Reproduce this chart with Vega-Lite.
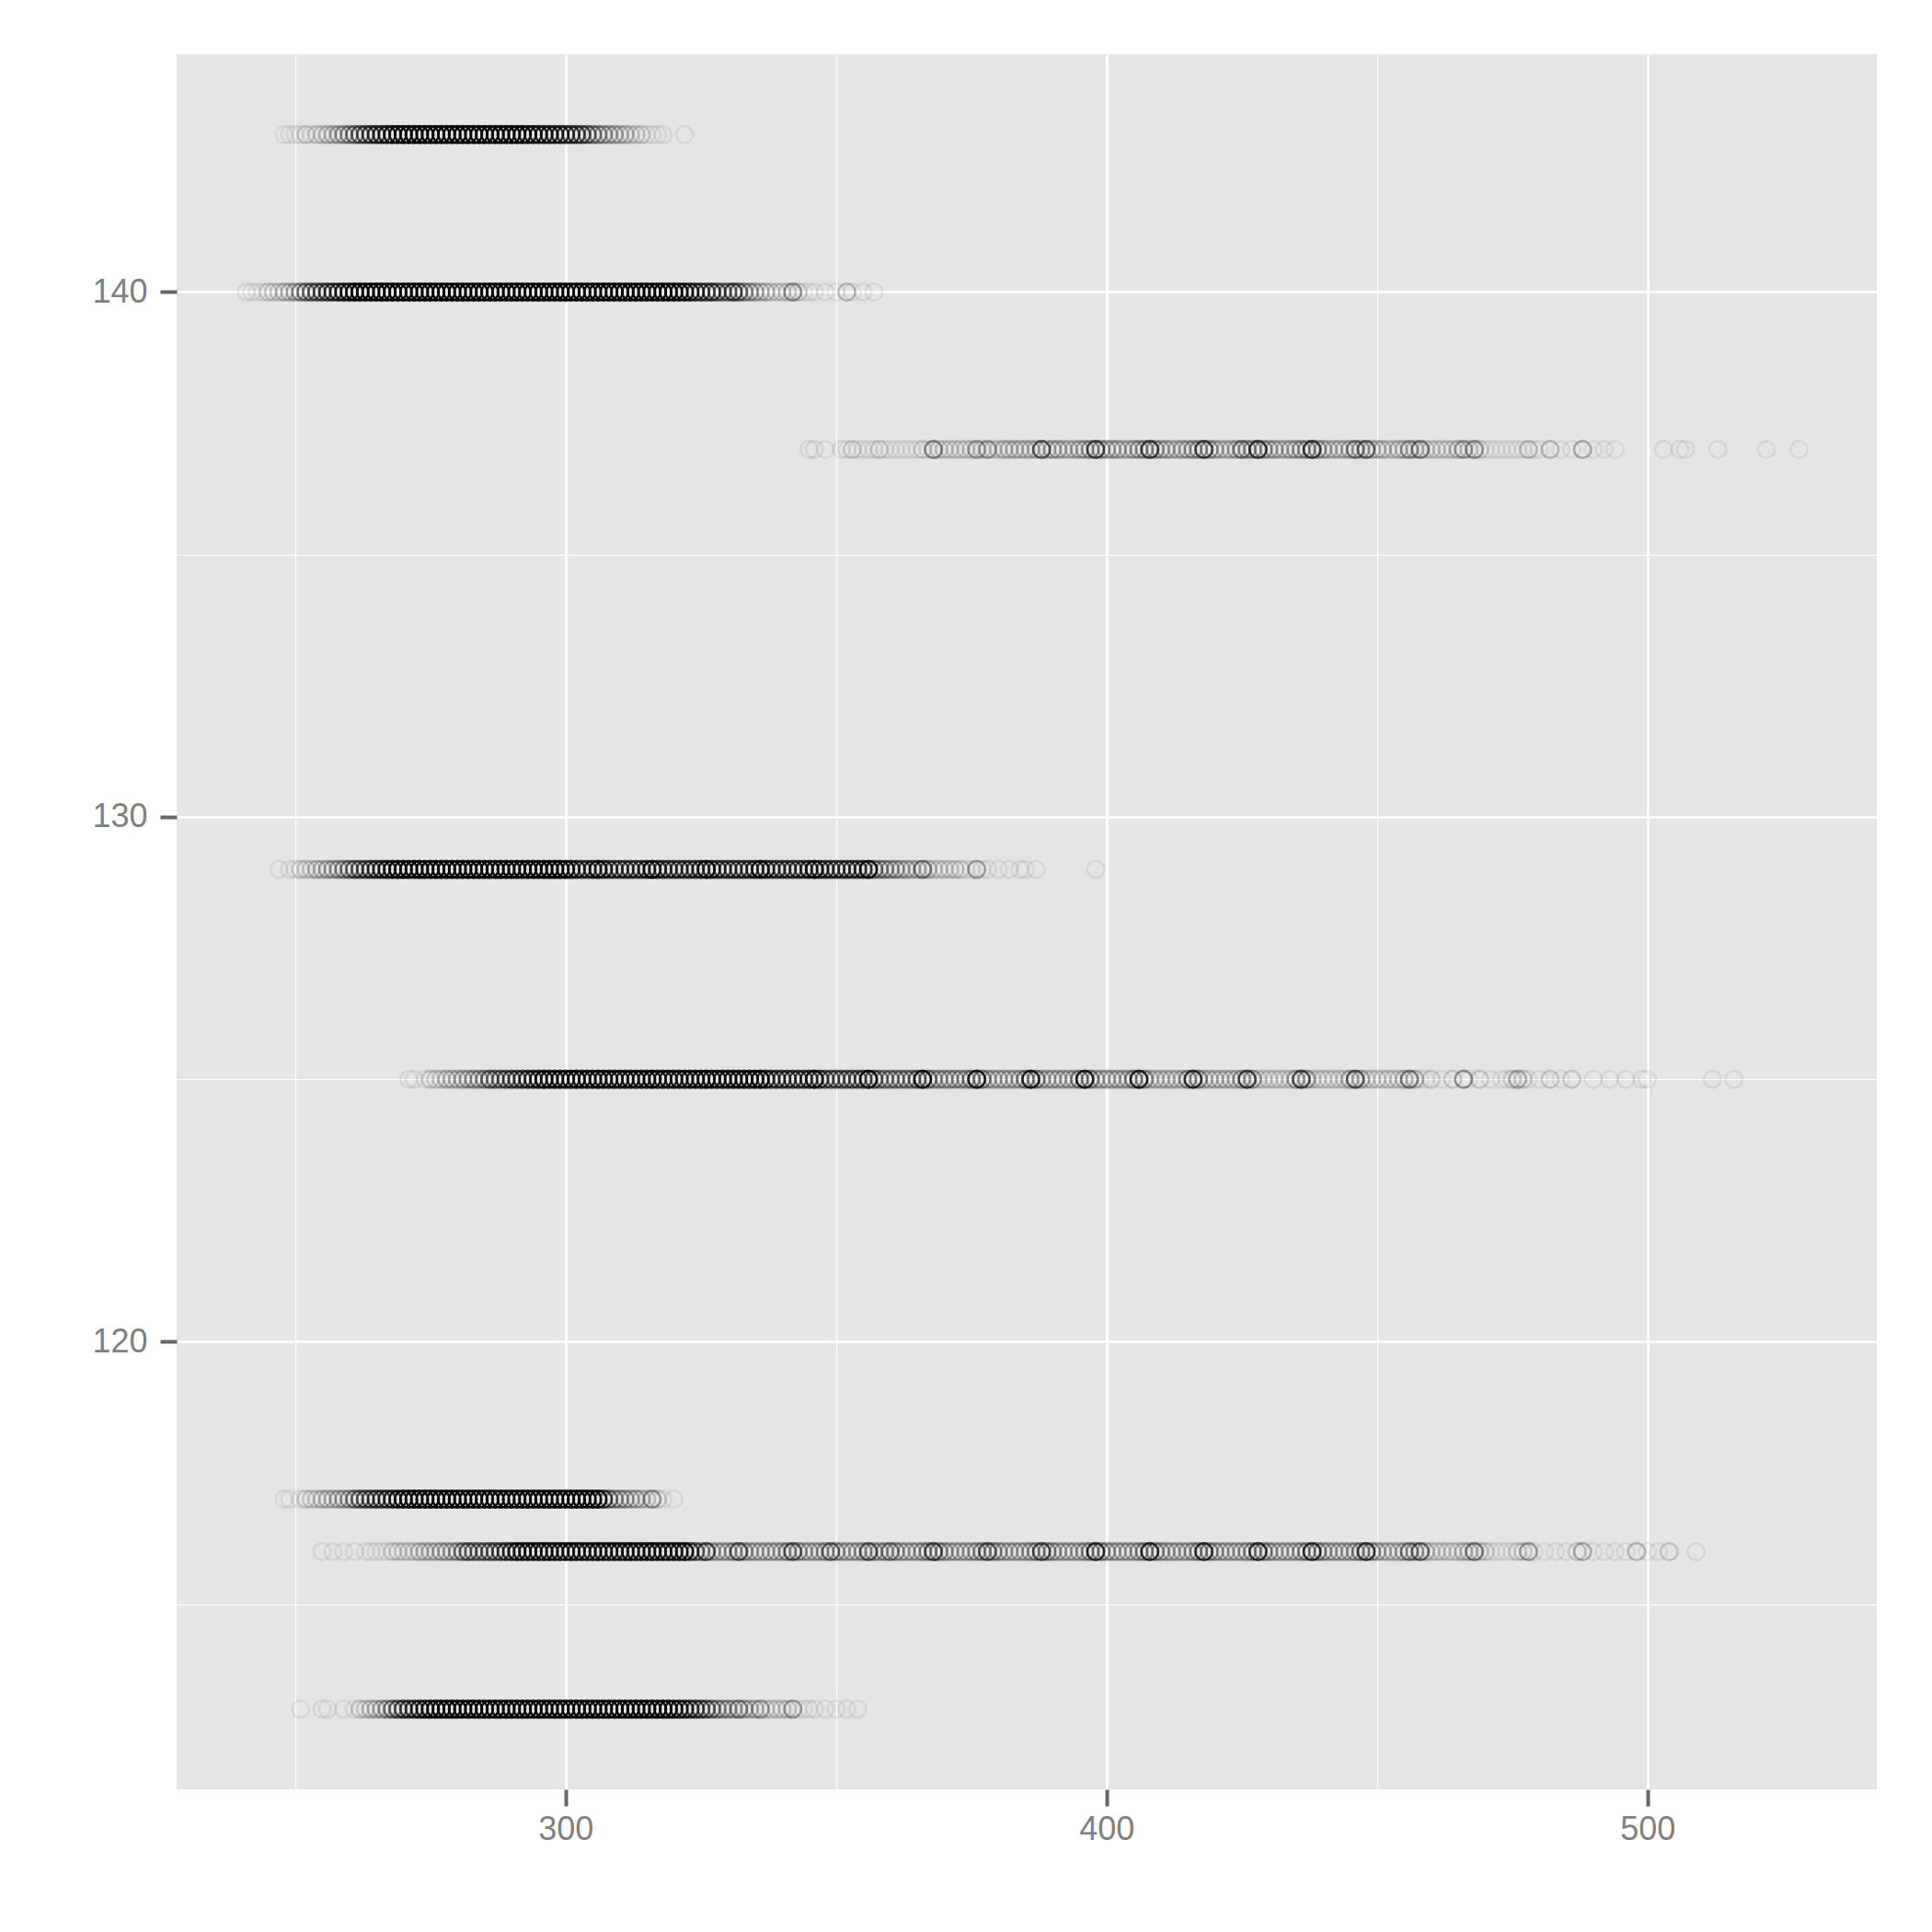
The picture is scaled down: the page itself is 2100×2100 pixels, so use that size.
{"$schema":"https://vega.github.io/schema/vega-lite/v6.json","width":1848,"height":1886,"autosize":"none","padding":{"left":192,"top":59,"right":60,"bottom":155},"background":"white","config":{"view":{"fill":"#E5E5E5","stroke":null},"axis":{"labelFont":"Liberation Sans","labelFontSize":36,"labelColor":"#7F7F7F","tickColor":"#666666","tickSize":18,"tickWidth":4,"domain":false,"title":null,"gridColor":"#FFFFFF"}},
"data":{"values":[
{"x":248,"y":143,"n":1},{"x":249,"y":143,"n":1},{"x":250,"y":143,"n":1},{"x":251,"y":143,"n":1},{"x":252,"y":143,"n":2},{"x":253,"y":143,"n":1},{"x":254,"y":143,"n":2},{"x":255,"y":143,"n":2},{"x":256,"y":143,"n":3},{"x":257,"y":143,"n":3},{"x":258,"y":143,"n":4},{"x":259,"y":143,"n":5},{"x":260,"y":143,"n":6},{"x":261,"y":143,"n":8},{"x":262,"y":143,"n":10},{"x":263,"y":143,"n":12},{"x":264,"y":143,"n":14},{"x":265,"y":143,"n":16},{"x":266,"y":143,"n":18},{"x":267,"y":143,"n":20},{"x":268,"y":143,"n":24},{"x":269,"y":143,"n":26},{"x":270,"y":143,"n":28},
{"x":271,"y":143,"n":32},{"x":272,"y":143,"n":32},{"x":273,"y":143,"n":32},{"x":274,"y":143,"n":32},{"x":275,"y":143,"n":32},{"x":276,"y":143,"n":32},{"x":277,"y":143,"n":32},{"x":278,"y":143,"n":32},{"x":279,"y":143,"n":32},{"x":280,"y":143,"n":32},{"x":281,"y":143,"n":32},{"x":282,"y":143,"n":32},{"x":283,"y":143,"n":32},{"x":284,"y":143,"n":32},{"x":285,"y":143,"n":32},{"x":286,"y":143,"n":32},{"x":287,"y":143,"n":32},{"x":288,"y":143,"n":32},{"x":289,"y":143,"n":32},{"x":290,"y":143,"n":32},{"x":291,"y":143,"n":32},{"x":292,"y":143,"n":32},
{"x":293,"y":143,"n":24},{"x":294,"y":143,"n":22},{"x":295,"y":143,"n":22},{"x":296,"y":143,"n":20},{"x":297,"y":143,"n":20},{"x":298,"y":143,"n":18},{"x":299,"y":143,"n":18},{"x":300,"y":143,"n":16},{"x":301,"y":143,"n":15},{"x":302,"y":143,"n":14},{"x":303,"y":143,"n":12},{"x":304,"y":143,"n":9},{"x":305,"y":143,"n":7},{"x":306,"y":143,"n":6},{"x":307,"y":143,"n":5},{"x":308,"y":143,"n":4},{"x":309,"y":143,"n":4},{"x":310,"y":143,"n":3},{"x":311,"y":143,"n":3},{"x":312,"y":143,"n":2},{"x":313,"y":143,"n":2},{"x":314,"y":143,"n":2},{"x":315,"y":143,"n":1},{"x":316,"y":143,"n":1},{"x":317,"y":143,"n":1},{"x":318,"y":143,"n":1},{"x":322,"y":143,"n":1},
{"x":241,"y":140,"n":1},{"x":242,"y":140,"n":1},{"x":243,"y":140,"n":1},{"x":244,"y":140,"n":1},{"x":245,"y":140,"n":2},{"x":246,"y":140,"n":2},{"x":247,"y":140,"n":2},{"x":248,"y":140,"n":3},{"x":249,"y":140,"n":3},{"x":250,"y":140,"n":4},{"x":251,"y":140,"n":6},{"x":252,"y":140,"n":8},{"x":253,"y":140,"n":9},{"x":254,"y":140,"n":10},{"x":255,"y":140,"n":12},{"x":256,"y":140,"n":14},{"x":257,"y":140,"n":15},{"x":258,"y":140,"n":17},{"x":259,"y":140,"n":20},{"x":260,"y":140,"n":24},
{"x":261,"y":140,"n":34},{"x":262,"y":140,"n":34},{"x":263,"y":140,"n":34},{"x":264,"y":140,"n":34},{"x":265,"y":140,"n":34},{"x":266,"y":140,"n":34},{"x":267,"y":140,"n":34},{"x":268,"y":140,"n":34},{"x":269,"y":140,"n":34},{"x":270,"y":140,"n":34},{"x":271,"y":140,"n":34},{"x":272,"y":140,"n":34},{"x":273,"y":140,"n":34},{"x":274,"y":140,"n":34},{"x":275,"y":140,"n":34},{"x":276,"y":140,"n":34},{"x":277,"y":140,"n":34},{"x":278,"y":140,"n":34},{"x":279,"y":140,"n":34},{"x":280,"y":140,"n":34},{"x":281,"y":140,"n":34},{"x":282,"y":140,"n":34},{"x":283,"y":140,"n":34},{"x":284,"y":140,"n":34},{"x":285,"y":140,"n":34},{"x":286,"y":140,"n":34},{"x":287,"y":140,"n":34},{"x":288,"y":140,"n":34},{"x":289,"y":140,"n":34},{"x":290,"y":140,"n":34},{"x":291,"y":140,"n":34},{"x":292,"y":140,"n":34},{"x":293,"y":140,"n":34},{"x":294,"y":140,"n":34},{"x":295,"y":140,"n":34},{"x":296,"y":140,"n":34},{"x":297,"y":140,"n":34},{"x":298,"y":140,"n":34},{"x":299,"y":140,"n":34},{"x":300,"y":140,"n":34},{"x":301,"y":140,"n":34},{"x":302,"y":140,"n":34},{"x":303,"y":140,"n":34},{"x":304,"y":140,"n":34},{"x":305,"y":140,"n":34},{"x":306,"y":140,"n":34},{"x":307,"y":140,"n":34},{"x":308,"y":140,"n":34},{"x":309,"y":140,"n":34},{"x":310,"y":140,"n":34},{"x":311,"y":140,"n":34},{"x":312,"y":140,"n":34},{"x":313,"y":140,"n":34},{"x":314,"y":140,"n":34},{"x":315,"y":140,"n":34},{"x":316,"y":140,"n":34},{"x":317,"y":140,"n":34},{"x":318,"y":140,"n":34},{"x":319,"y":140,"n":34},
{"x":320,"y":140,"n":28},{"x":321,"y":140,"n":25},{"x":322,"y":140,"n":22},{"x":323,"y":140,"n":20},{"x":324,"y":140,"n":16},{"x":325,"y":140,"n":14},{"x":326,"y":140,"n":12},{"x":327,"y":140,"n":16},{"x":328,"y":140,"n":10},{"x":329,"y":140,"n":8},{"x":330,"y":140,"n":8},{"x":331,"y":140,"n":14},{"x":332,"y":140,"n":9},{"x":333,"y":140,"n":6},{"x":334,"y":140,"n":5},{"x":335,"y":140,"n":4},{"x":336,"y":140,"n":3},{"x":337,"y":140,"n":3},{"x":338,"y":140,"n":2},{"x":339,"y":140,"n":2},{"x":340,"y":140,"n":2},{"x":341,"y":140,"n":2},{"x":342,"y":140,"n":6},{"x":343,"y":140,"n":2},{"x":344,"y":140,"n":1},{"x":345,"y":140,"n":1},{"x":346,"y":140,"n":1},{"x":348,"y":140,"n":1},{"x":350,"y":140,"n":1},{"x":352,"y":140,"n":3},{"x":353,"y":140,"n":1},{"x":355,"y":140,"n":1},{"x":357,"y":140,"n":1},
{"x":345,"y":137,"n":1},{"x":346,"y":137,"n":1},{"x":348,"y":137,"n":1},{"x":351,"y":137,"n":1},{"x":352,"y":137,"n":1},{"x":353,"y":137,"n":2},{"x":354,"y":137,"n":1},{"x":355,"y":137,"n":1},{"x":356,"y":137,"n":1},{"x":357,"y":137,"n":1},{"x":358,"y":137,"n":2},{"x":359,"y":137,"n":1},{"x":360,"y":137,"n":1},{"x":361,"y":137,"n":1},{"x":362,"y":137,"n":1},{"x":363,"y":137,"n":1},{"x":364,"y":137,"n":1},{"x":365,"y":137,"n":1},{"x":366,"y":137,"n":2},{"x":367,"y":137,"n":1},{"x":368,"y":137,"n":7},{"x":369,"y":137,"n":2},{"x":370,"y":137,"n":2},{"x":371,"y":137,"n":2},{"x":372,"y":137,"n":2},{"x":373,"y":137,"n":2},{"x":374,"y":137,"n":2},{"x":375,"y":137,"n":2},{"x":376,"y":137,"n":5},{"x":377,"y":137,"n":2},{"x":378,"y":137,"n":5},{"x":379,"y":137,"n":2},{"x":380,"y":137,"n":2},{"x":381,"y":137,"n":3},{"x":382,"y":137,"n":3},{"x":383,"y":137,"n":3},{"x":384,"y":137,"n":3},{"x":385,"y":137,"n":3},{"x":386,"y":137,"n":3},{"x":387,"y":137,"n":3},{"x":388,"y":137,"n":12},{"x":389,"y":137,"n":3},{"x":390,"y":137,"n":4},{"x":391,"y":137,"n":4},{"x":392,"y":137,"n":3},{"x":393,"y":137,"n":3},{"x":394,"y":137,"n":3},{"x":395,"y":137,"n":4},{"x":396,"y":137,"n":4},{"x":397,"y":137,"n":5},{"x":398,"y":137,"n":15},{"x":399,"y":137,"n":5},{"x":400,"y":137,"n":4},{"x":401,"y":137,"n":4},{"x":402,"y":137,"n":4},{"x":403,"y":137,"n":3},{"x":404,"y":137,"n":3},{"x":405,"y":137,"n":4},{"x":406,"y":137,"n":5},{"x":407,"y":137,"n":5},{"x":408,"y":137,"n":16},{"x":409,"y":137,"n":5},{"x":410,"y":137,"n":4},{"x":411,"y":137,"n":4},{"x":412,"y":137,"n":3},{"x":413,"y":137,"n":3},{"x":414,"y":137,"n":4},{"x":415,"y":137,"n":4},{"x":416,"y":137,"n":5},{"x":417,"y":137,"n":5},{"x":418,"y":137,"n":16},{"x":419,"y":137,"n":5},{"x":420,"y":137,"n":4},{"x":421,"y":137,"n":3},{"x":422,"y":137,"n":3},{"x":423,"y":137,"n":3},{"x":424,"y":137,"n":4},{"x":425,"y":137,"n":8},{"x":426,"y":137,"n":5},{"x":427,"y":137,"n":5},{"x":428,"y":137,"n":18},{"x":429,"y":137,"n":5},{"x":430,"y":137,"n":4},{"x":431,"y":137,"n":4},{"x":432,"y":137,"n":3},{"x":433,"y":137,"n":3},{"x":434,"y":137,"n":4},{"x":435,"y":137,"n":4},{"x":436,"y":137,"n":5},{"x":437,"y":137,"n":5},{"x":438,"y":137,"n":18},{"x":439,"y":137,"n":5},{"x":440,"y":137,"n":4},{"x":441,"y":137,"n":3},{"x":442,"y":137,"n":3},{"x":443,"y":137,"n":3},{"x":444,"y":137,"n":3},{"x":445,"y":137,"n":4},{"x":446,"y":137,"n":8},{"x":447,"y":137,"n":4},{"x":448,"y":137,"n":10},{"x":449,"y":137,"n":3},{"x":450,"y":137,"n":3},{"x":451,"y":137,"n":3},{"x":452,"y":137,"n":2},{"x":453,"y":137,"n":2},{"x":454,"y":137,"n":3},{"x":455,"y":137,"n":3},{"x":456,"y":137,"n":6},{"x":457,"y":137,"n":3},{"x":458,"y":137,"n":8},{"x":459,"y":137,"n":2},{"x":460,"y":137,"n":2},{"x":461,"y":137,"n":2},{"x":462,"y":137,"n":2},{"x":463,"y":137,"n":2},{"x":464,"y":137,"n":2},{"x":465,"y":137,"n":3},{"x":466,"y":137,"n":5},{"x":467,"y":137,"n":2},{"x":468,"y":137,"n":6},{"x":469,"y":137,"n":2},{"x":470,"y":137,"n":1},{"x":471,"y":137,"n":1},{"x":472,"y":137,"n":1},{"x":473,"y":137,"n":1},{"x":474,"y":137,"n":1},{"x":475,"y":137,"n":1},{"x":476,"y":137,"n":1},{"x":477,"y":137,"n":1},{"x":478,"y":137,"n":3},{"x":479,"y":137,"n":1},{"x":480,"y":137,"n":1},{"x":482,"y":137,"n":3},{"x":484,"y":137,"n":1},{"x":486,"y":137,"n":1},{"x":488,"y":137,"n":4},{"x":490,"y":137,"n":1},{"x":492,"y":137,"n":1},{"x":494,"y":137,"n":1},{"x":503,"y":137,"n":1},{"x":506,"y":137,"n":1},{"x":507,"y":137,"n":1},{"x":513,"y":137,"n":1},{"x":522,"y":137,"n":1},{"x":528,"y":137,"n":1},
{"x":247,"y":129,"n":1},{"x":249,"y":129,"n":1},{"x":250,"y":129,"n":1},{"x":251,"y":129,"n":2},{"x":252,"y":129,"n":2},{"x":253,"y":129,"n":2},{"x":254,"y":129,"n":3},{"x":255,"y":129,"n":3},{"x":256,"y":129,"n":4},{"x":257,"y":129,"n":4},{"x":258,"y":129,"n":5},{"x":259,"y":129,"n":6},{"x":260,"y":129,"n":8},{"x":261,"y":129,"n":10},{"x":262,"y":129,"n":10},{"x":263,"y":129,"n":12},{"x":264,"y":129,"n":14},{"x":265,"y":129,"n":16},{"x":266,"y":129,"n":18},{"x":267,"y":129,"n":22},{"x":268,"y":129,"n":26},
{"x":269,"y":129,"n":32},{"x":270,"y":129,"n":32},{"x":271,"y":129,"n":32},{"x":272,"y":129,"n":32},{"x":273,"y":129,"n":32},{"x":274,"y":129,"n":32},{"x":275,"y":129,"n":32},{"x":276,"y":129,"n":32},{"x":277,"y":129,"n":32},{"x":278,"y":129,"n":32},{"x":279,"y":129,"n":32},{"x":280,"y":129,"n":32},{"x":281,"y":129,"n":32},{"x":282,"y":129,"n":32},{"x":283,"y":129,"n":32},{"x":284,"y":129,"n":32},{"x":285,"y":129,"n":32},{"x":286,"y":129,"n":32},{"x":287,"y":129,"n":32},{"x":288,"y":129,"n":32},{"x":289,"y":129,"n":32},{"x":290,"y":129,"n":32},{"x":291,"y":129,"n":32},{"x":292,"y":129,"n":32},{"x":293,"y":129,"n":32},{"x":294,"y":129,"n":32},{"x":295,"y":129,"n":32},{"x":296,"y":129,"n":32},{"x":297,"y":129,"n":32},{"x":298,"y":129,"n":32},{"x":299,"y":129,"n":32},{"x":300,"y":129,"n":32},
{"x":301,"y":129,"n":22},{"x":302,"y":129,"n":18},{"x":303,"y":129,"n":15},{"x":304,"y":129,"n":14},{"x":305,"y":129,"n":18},{"x":306,"y":129,"n":30},{"x":307,"y":129,"n":18},{"x":308,"y":129,"n":14},{"x":309,"y":129,"n":14},{"x":310,"y":129,"n":14},{"x":311,"y":129,"n":14},{"x":312,"y":129,"n":14},{"x":313,"y":129,"n":14},{"x":314,"y":129,"n":14},{"x":315,"y":129,"n":18},{"x":316,"y":129,"n":30},{"x":317,"y":129,"n":18},{"x":318,"y":129,"n":14},{"x":319,"y":129,"n":14},{"x":320,"y":129,"n":14},{"x":321,"y":129,"n":14},{"x":322,"y":129,"n":14},{"x":323,"y":129,"n":14},{"x":324,"y":129,"n":14},{"x":325,"y":129,"n":18},{"x":326,"y":129,"n":30},{"x":327,"y":129,"n":18},{"x":328,"y":129,"n":14},{"x":329,"y":129,"n":14},{"x":330,"y":129,"n":14},{"x":331,"y":129,"n":14},{"x":332,"y":129,"n":14},{"x":333,"y":129,"n":14},{"x":334,"y":129,"n":14},{"x":335,"y":129,"n":18},{"x":336,"y":129,"n":30},{"x":337,"y":129,"n":18},{"x":338,"y":129,"n":14},{"x":339,"y":129,"n":14},{"x":340,"y":129,"n":14},{"x":341,"y":129,"n":14},{"x":342,"y":129,"n":14},{"x":343,"y":129,"n":14},{"x":344,"y":129,"n":14},{"x":345,"y":129,"n":18},{"x":346,"y":129,"n":30},{"x":347,"y":129,"n":18},{"x":348,"y":129,"n":14},{"x":349,"y":129,"n":14},{"x":350,"y":129,"n":14},{"x":351,"y":129,"n":14},{"x":352,"y":129,"n":14},{"x":353,"y":129,"n":14},{"x":354,"y":129,"n":14},{"x":355,"y":129,"n":16},{"x":356,"y":129,"n":30},{"x":357,"y":129,"n":8},{"x":358,"y":129,"n":6},{"x":359,"y":129,"n":6},{"x":360,"y":129,"n":5},{"x":361,"y":129,"n":5},{"x":362,"y":129,"n":4},{"x":363,"y":129,"n":4},{"x":364,"y":129,"n":3},{"x":365,"y":129,"n":3},{"x":366,"y":129,"n":8},{"x":367,"y":129,"n":3},{"x":368,"y":129,"n":2},{"x":369,"y":129,"n":2},{"x":370,"y":129,"n":2},{"x":371,"y":129,"n":2},{"x":372,"y":129,"n":2},{"x":373,"y":129,"n":2},{"x":374,"y":129,"n":1},{"x":375,"y":129,"n":1},{"x":376,"y":129,"n":5},{"x":377,"y":129,"n":1},{"x":378,"y":129,"n":1},{"x":380,"y":129,"n":1},{"x":382,"y":129,"n":1},{"x":384,"y":129,"n":1},{"x":385,"y":129,"n":1},{"x":387,"y":129,"n":1},{"x":398,"y":129,"n":1},
{"x":271,"y":125,"n":1},{"x":272,"y":125,"n":1},{"x":274,"y":125,"n":1},{"x":275,"y":125,"n":2},{"x":276,"y":125,"n":2},{"x":277,"y":125,"n":2},{"x":278,"y":125,"n":3},{"x":279,"y":125,"n":3},{"x":280,"y":125,"n":3},{"x":281,"y":125,"n":4},{"x":282,"y":125,"n":4},{"x":283,"y":125,"n":5},{"x":284,"y":125,"n":5},{"x":285,"y":125,"n":6},{"x":286,"y":125,"n":10},{"x":287,"y":125,"n":8},{"x":288,"y":125,"n":9},{"x":289,"y":125,"n":10},{"x":290,"y":125,"n":12},{"x":291,"y":125,"n":12},{"x":292,"y":125,"n":14},{"x":293,"y":125,"n":16},{"x":294,"y":125,"n":18},{"x":295,"y":125,"n":20},{"x":296,"y":125,"n":30},{"x":297,"y":125,"n":22},{"x":298,"y":125,"n":24},{"x":299,"y":125,"n":24},{"x":300,"y":125,"n":24},{"x":301,"y":125,"n":24},{"x":302,"y":125,"n":30},{"x":303,"y":125,"n":24},{"x":304,"y":125,"n":24},{"x":305,"y":125,"n":24},{"x":306,"y":125,"n":34},{"x":307,"y":125,"n":24},{"x":308,"y":125,"n":24},{"x":309,"y":125,"n":24},{"x":310,"y":125,"n":24},{"x":311,"y":125,"n":24},{"x":312,"y":125,"n":24},{"x":313,"y":125,"n":24},{"x":314,"y":125,"n":24},{"x":315,"y":125,"n":24},{"x":316,"y":125,"n":34},{"x":317,"y":125,"n":24},{"x":318,"y":125,"n":24},{"x":319,"y":125,"n":24},{"x":320,"y":125,"n":24},{"x":321,"y":125,"n":24},{"x":322,"y":125,"n":24},{"x":323,"y":125,"n":24},{"x":324,"y":125,"n":24},{"x":325,"y":125,"n":24},{"x":326,"y":125,"n":34},{"x":327,"y":125,"n":24},{"x":328,"y":125,"n":24},{"x":329,"y":125,"n":24},{"x":330,"y":125,"n":24},{"x":331,"y":125,"n":24},{"x":332,"y":125,"n":24},{"x":333,"y":125,"n":24},{"x":334,"y":125,"n":24},{"x":335,"y":125,"n":24},{"x":336,"y":125,"n":34},{"x":337,"y":125,"n":18},{"x":338,"y":125,"n":14},{"x":339,"y":125,"n":14},{"x":340,"y":125,"n":14},{"x":341,"y":125,"n":14},{"x":342,"y":125,"n":14},{"x":343,"y":125,"n":14},{"x":344,"y":125,"n":14},{"x":345,"y":125,"n":16},{"x":346,"y":125,"n":32},{"x":347,"y":125,"n":14},{"x":348,"y":125,"n":10},{"x":349,"y":125,"n":10},{"x":350,"y":125,"n":10},{"x":351,"y":125,"n":10},{"x":352,"y":125,"n":10},{"x":353,"y":125,"n":10},{"x":354,"y":125,"n":10},{"x":355,"y":125,"n":12},{"x":356,"y":125,"n":32},{"x":357,"y":125,"n":10},{"x":358,"y":125,"n":7},{"x":359,"y":125,"n":7},{"x":360,"y":125,"n":7},{"x":361,"y":125,"n":7},{"x":362,"y":125,"n":7},{"x":363,"y":125,"n":7},{"x":364,"y":125,"n":7},{"x":365,"y":125,"n":9},{"x":366,"y":125,"n":30},{"x":367,"y":125,"n":8},{"x":368,"y":125,"n":5},{"x":369,"y":125,"n":5},{"x":370,"y":125,"n":5},{"x":371,"y":125,"n":5},{"x":372,"y":125,"n":5},{"x":373,"y":125,"n":5},{"x":374,"y":125,"n":5},{"x":375,"y":125,"n":7},{"x":376,"y":125,"n":28},{"x":377,"y":125,"n":7},{"x":378,"y":125,"n":4},{"x":379,"y":125,"n":4},{"x":380,"y":125,"n":4},{"x":381,"y":125,"n":4},{"x":382,"y":125,"n":4},{"x":383,"y":125,"n":4},{"x":384,"y":125,"n":4},{"x":385,"y":125,"n":7},{"x":386,"y":125,"n":26},{"x":387,"y":125,"n":7},{"x":388,"y":125,"n":4},{"x":389,"y":125,"n":4},{"x":390,"y":125,"n":4},{"x":391,"y":125,"n":4},{"x":392,"y":125,"n":4},{"x":393,"y":125,"n":4},{"x":394,"y":125,"n":4},{"x":395,"y":125,"n":7},{"x":396,"y":125,"n":26},{"x":397,"y":125,"n":7},{"x":398,"y":125,"n":4},{"x":399,"y":125,"n":4},{"x":400,"y":125,"n":4},{"x":401,"y":125,"n":4},{"x":402,"y":125,"n":4},{"x":403,"y":125,"n":4},{"x":404,"y":125,"n":4},{"x":405,"y":125,"n":7},{"x":406,"y":125,"n":24},{"x":407,"y":125,"n":6},{"x":408,"y":125,"n":3},{"x":409,"y":125,"n":3},{"x":410,"y":125,"n":3},{"x":411,"y":125,"n":3},{"x":412,"y":125,"n":3},{"x":413,"y":125,"n":3},{"x":414,"y":125,"n":3},{"x":415,"y":125,"n":6},{"x":416,"y":125,"n":20},{"x":417,"y":125,"n":6},{"x":418,"y":125,"n":3},{"x":419,"y":125,"n":3},{"x":420,"y":125,"n":3},{"x":421,"y":125,"n":3},{"x":422,"y":125,"n":3},{"x":423,"y":125,"n":3},{"x":424,"y":125,"n":3},{"x":425,"y":125,"n":5},{"x":426,"y":125,"n":16},{"x":427,"y":125,"n":5},{"x":428,"y":125,"n":2},{"x":429,"y":125,"n":2},{"x":430,"y":125,"n":2},{"x":431,"y":125,"n":2},{"x":432,"y":125,"n":2},{"x":433,"y":125,"n":2},{"x":434,"y":125,"n":2},{"x":435,"y":125,"n":5},{"x":436,"y":125,"n":14},{"x":437,"y":125,"n":5},{"x":438,"y":125,"n":2},{"x":439,"y":125,"n":2},{"x":440,"y":125,"n":2},{"x":441,"y":125,"n":2},{"x":442,"y":125,"n":2},{"x":443,"y":125,"n":2},{"x":444,"y":125,"n":2},{"x":445,"y":125,"n":4},{"x":446,"y":125,"n":12},{"x":447,"y":125,"n":4},{"x":448,"y":125,"n":2},{"x":449,"y":125,"n":2},{"x":450,"y":125,"n":2},{"x":451,"y":125,"n":2},{"x":452,"y":125,"n":2},{"x":453,"y":125,"n":2},{"x":454,"y":125,"n":2},{"x":455,"y":125,"n":3},{"x":456,"y":125,"n":8},{"x":457,"y":125,"n":3},{"x":458,"y":125,"n":1},{"x":459,"y":125,"n":1},{"x":460,"y":125,"n":2},{"x":462,"y":125,"n":1},{"x":464,"y":125,"n":2},{"x":466,"y":125,"n":6},{"x":467,"y":125,"n":1},{"x":469,"y":125,"n":2},{"x":471,"y":125,"n":1},{"x":473,"y":125,"n":1},{"x":474,"y":125,"n":1},{"x":475,"y":125,"n":2},{"x":476,"y":125,"n":4},{"x":477,"y":125,"n":2},{"x":478,"y":125,"n":1},{"x":480,"y":125,"n":1},{"x":482,"y":125,"n":2},{"x":484,"y":125,"n":1},{"x":486,"y":125,"n":2},{"x":490,"y":125,"n":1},{"x":493,"y":125,"n":1},{"x":496,"y":125,"n":1},{"x":499,"y":125,"n":1},{"x":500,"y":125,"n":1},{"x":512,"y":125,"n":1},{"x":516,"y":125,"n":1},
{"x":248,"y":117,"n":1},{"x":249,"y":117,"n":1},{"x":251,"y":117,"n":1},{"x":252,"y":117,"n":2},{"x":253,"y":117,"n":2},{"x":254,"y":117,"n":2},{"x":255,"y":117,"n":3},{"x":256,"y":117,"n":3},{"x":257,"y":117,"n":3},{"x":258,"y":117,"n":4},{"x":259,"y":117,"n":4},{"x":260,"y":117,"n":5},{"x":261,"y":117,"n":8},{"x":262,"y":117,"n":10},{"x":263,"y":117,"n":12},{"x":264,"y":117,"n":12},{"x":265,"y":117,"n":14},{"x":266,"y":117,"n":14},{"x":267,"y":117,"n":16},{"x":268,"y":117,"n":18},{"x":269,"y":117,"n":24},
{"x":270,"y":117,"n":32},{"x":271,"y":117,"n":32},{"x":272,"y":117,"n":32},{"x":273,"y":117,"n":32},{"x":274,"y":117,"n":32},{"x":275,"y":117,"n":32},{"x":276,"y":117,"n":32},{"x":277,"y":117,"n":32},{"x":278,"y":117,"n":32},{"x":279,"y":117,"n":32},{"x":280,"y":117,"n":32},{"x":281,"y":117,"n":32},{"x":282,"y":117,"n":32},{"x":283,"y":117,"n":32},{"x":284,"y":117,"n":32},{"x":285,"y":117,"n":32},{"x":286,"y":117,"n":32},{"x":287,"y":117,"n":32},{"x":288,"y":117,"n":32},{"x":289,"y":117,"n":32},{"x":290,"y":117,"n":32},{"x":291,"y":117,"n":32},{"x":292,"y":117,"n":32},{"x":293,"y":117,"n":32},{"x":294,"y":117,"n":32},{"x":295,"y":117,"n":32},{"x":296,"y":117,"n":32},{"x":297,"y":117,"n":32},{"x":298,"y":117,"n":32},{"x":299,"y":117,"n":32},{"x":300,"y":117,"n":32},{"x":301,"y":117,"n":32},{"x":302,"y":117,"n":32},{"x":303,"y":117,"n":32},{"x":304,"y":117,"n":32},{"x":305,"y":117,"n":32},
{"x":306,"y":117,"n":34},{"x":307,"y":117,"n":16},{"x":308,"y":117,"n":8},{"x":309,"y":117,"n":6},{"x":310,"y":117,"n":5},{"x":311,"y":117,"n":5},{"x":312,"y":117,"n":4},{"x":313,"y":117,"n":4},{"x":314,"y":117,"n":3},{"x":315,"y":117,"n":2},{"x":316,"y":117,"n":6},{"x":317,"y":117,"n":2},{"x":318,"y":117,"n":1},{"x":320,"y":117,"n":1},
{"x":255,"y":116,"n":1},{"x":257,"y":116,"n":1},{"x":259,"y":116,"n":1},{"x":261,"y":116,"n":1},{"x":263,"y":116,"n":1},{"x":264,"y":116,"n":1},{"x":265,"y":116,"n":1},{"x":266,"y":116,"n":1},{"x":267,"y":116,"n":1},{"x":268,"y":116,"n":2},{"x":269,"y":116,"n":2},{"x":270,"y":116,"n":2},{"x":271,"y":116,"n":2},{"x":272,"y":116,"n":2},{"x":273,"y":116,"n":3},{"x":274,"y":116,"n":3},{"x":275,"y":116,"n":3},{"x":276,"y":116,"n":3},{"x":277,"y":116,"n":4},{"x":278,"y":116,"n":4},{"x":279,"y":116,"n":4},{"x":280,"y":116,"n":5},{"x":281,"y":116,"n":8},{"x":282,"y":116,"n":10},{"x":283,"y":116,"n":8},{"x":284,"y":116,"n":8},{"x":285,"y":116,"n":9},{"x":286,"y":116,"n":10},{"x":287,"y":116,"n":10},{"x":288,"y":116,"n":12},{"x":289,"y":116,"n":14},{"x":290,"y":116,"n":16},{"x":291,"y":116,"n":24},{"x":292,"y":116,"n":22},{"x":293,"y":116,"n":22},{"x":294,"y":116,"n":22},{"x":295,"y":116,"n":22},{"x":296,"y":116,"n":28},{"x":297,"y":116,"n":22},{"x":298,"y":116,"n":22},{"x":299,"y":116,"n":22},{"x":300,"y":116,"n":22},{"x":301,"y":116,"n":28},{"x":302,"y":116,"n":22},{"x":303,"y":116,"n":22},{"x":304,"y":116,"n":22},{"x":305,"y":116,"n":22},{"x":306,"y":116,"n":28},{"x":307,"y":116,"n":22},{"x":308,"y":116,"n":22},{"x":309,"y":116,"n":22},{"x":310,"y":116,"n":22},{"x":311,"y":116,"n":22},{"x":312,"y":116,"n":28},{"x":313,"y":116,"n":22},{"x":314,"y":116,"n":22},{"x":315,"y":116,"n":22},{"x":316,"y":116,"n":28},{"x":317,"y":116,"n":22},{"x":318,"y":116,"n":22},{"x":319,"y":116,"n":22},{"x":320,"y":116,"n":22},{"x":321,"y":116,"n":22},{"x":322,"y":116,"n":28},{"x":323,"y":116,"n":14},{"x":324,"y":116,"n":10},{"x":325,"y":116,"n":6},{"x":326,"y":116,"n":14},{"x":327,"y":116,"n":4},{"x":328,"y":116,"n":4},{"x":329,"y":116,"n":4},{"x":330,"y":116,"n":4},{"x":331,"y":116,"n":5},{"x":332,"y":116,"n":12},{"x":333,"y":116,"n":5},{"x":334,"y":116,"n":4},{"x":335,"y":116,"n":4},{"x":336,"y":116,"n":4},{"x":337,"y":116,"n":4},{"x":338,"y":116,"n":4},{"x":339,"y":116,"n":4},{"x":340,"y":116,"n":4},{"x":341,"y":116,"n":6},{"x":342,"y":116,"n":12},{"x":343,"y":116,"n":5},{"x":344,"y":116,"n":4},{"x":345,"y":116,"n":4},{"x":346,"y":116,"n":4},{"x":347,"y":116,"n":4},{"x":348,"y":116,"n":5},{"x":349,"y":116,"n":10},{"x":350,"y":116,"n":5},{"x":351,"y":116,"n":4},{"x":352,"y":116,"n":4},{"x":353,"y":116,"n":4},{"x":354,"y":116,"n":4},{"x":355,"y":116,"n":5},{"x":356,"y":116,"n":12},{"x":357,"y":116,"n":5},{"x":358,"y":116,"n":4},{"x":359,"y":116,"n":5},{"x":360,"y":116,"n":8},{"x":361,"y":116,"n":5},{"x":362,"y":116,"n":4},{"x":363,"y":116,"n":4},{"x":364,"y":116,"n":4},{"x":365,"y":116,"n":4},{"x":366,"y":116,"n":5},{"x":367,"y":116,"n":6},{"x":368,"y":116,"n":14},{"x":369,"y":116,"n":6},{"x":370,"y":116,"n":5},{"x":371,"y":116,"n":4},{"x":372,"y":116,"n":4},{"x":373,"y":116,"n":4},{"x":374,"y":116,"n":4},{"x":375,"y":116,"n":4},{"x":376,"y":116,"n":5},{"x":377,"y":116,"n":6},{"x":378,"y":116,"n":12},{"x":379,"y":116,"n":6},{"x":380,"y":116,"n":5},{"x":381,"y":116,"n":4},{"x":382,"y":116,"n":4},{"x":383,"y":116,"n":4},{"x":384,"y":116,"n":4},{"x":385,"y":116,"n":4},{"x":386,"y":116,"n":5},{"x":387,"y":116,"n":6},{"x":388,"y":116,"n":14},{"x":389,"y":116,"n":6},{"x":390,"y":116,"n":5},{"x":391,"y":116,"n":4},{"x":392,"y":116,"n":4},{"x":393,"y":116,"n":4},{"x":394,"y":116,"n":4},{"x":395,"y":116,"n":4},{"x":396,"y":116,"n":5},{"x":397,"y":116,"n":6},{"x":398,"y":116,"n":20},{"x":399,"y":116,"n":6},{"x":400,"y":116,"n":5},{"x":401,"y":116,"n":4},{"x":402,"y":116,"n":4},{"x":403,"y":116,"n":4},{"x":404,"y":116,"n":4},{"x":405,"y":116,"n":4},{"x":406,"y":116,"n":5},{"x":407,"y":116,"n":6},{"x":408,"y":116,"n":22},{"x":409,"y":116,"n":6},{"x":410,"y":116,"n":5},{"x":411,"y":116,"n":4},{"x":412,"y":116,"n":4},{"x":413,"y":116,"n":4},{"x":414,"y":116,"n":4},{"x":415,"y":116,"n":4},{"x":416,"y":116,"n":5},{"x":417,"y":116,"n":6},{"x":418,"y":116,"n":20},{"x":419,"y":116,"n":6},{"x":420,"y":116,"n":5},{"x":421,"y":116,"n":4},{"x":422,"y":116,"n":4},{"x":423,"y":116,"n":4},{"x":424,"y":116,"n":4},{"x":425,"y":116,"n":4},{"x":426,"y":116,"n":5},{"x":427,"y":116,"n":6},{"x":428,"y":116,"n":20},{"x":429,"y":116,"n":6},{"x":430,"y":116,"n":5},{"x":431,"y":116,"n":4},{"x":432,"y":116,"n":4},{"x":433,"y":116,"n":4},{"x":434,"y":116,"n":4},{"x":435,"y":116,"n":4},{"x":436,"y":116,"n":5},{"x":437,"y":116,"n":6},{"x":438,"y":116,"n":20},{"x":439,"y":116,"n":6},{"x":440,"y":116,"n":5},{"x":441,"y":116,"n":4},{"x":442,"y":116,"n":4},{"x":443,"y":116,"n":4},{"x":444,"y":116,"n":4},{"x":445,"y":116,"n":4},{"x":446,"y":116,"n":5},{"x":447,"y":116,"n":6},{"x":448,"y":116,"n":18},{"x":449,"y":116,"n":5},{"x":450,"y":116,"n":4},{"x":451,"y":116,"n":3},{"x":452,"y":116,"n":3},{"x":453,"y":116,"n":3},{"x":454,"y":116,"n":3},{"x":455,"y":116,"n":4},{"x":456,"y":116,"n":8},{"x":457,"y":116,"n":5},{"x":458,"y":116,"n":10},{"x":459,"y":116,"n":3},{"x":460,"y":116,"n":2},{"x":461,"y":116,"n":2},{"x":462,"y":116,"n":2},{"x":463,"y":116,"n":2},{"x":464,"y":116,"n":2},{"x":465,"y":116,"n":2},{"x":466,"y":116,"n":3},{"x":467,"y":116,"n":3},{"x":468,"y":116,"n":8},{"x":469,"y":116,"n":2},{"x":470,"y":116,"n":2},{"x":471,"y":116,"n":1},{"x":472,"y":116,"n":1},{"x":473,"y":116,"n":1},{"x":474,"y":116,"n":1},{"x":475,"y":116,"n":1},{"x":476,"y":116,"n":2},{"x":477,"y":116,"n":2},{"x":478,"y":116,"n":5},{"x":479,"y":116,"n":1},{"x":481,"y":116,"n":1},{"x":483,"y":116,"n":1},{"x":485,"y":116,"n":1},{"x":487,"y":116,"n":2},{"x":488,"y":116,"n":4},{"x":490,"y":116,"n":1},{"x":492,"y":116,"n":1},{"x":494,"y":116,"n":1},{"x":496,"y":116,"n":1},{"x":498,"y":116,"n":3},{"x":500,"y":116,"n":1},{"x":502,"y":116,"n":1},{"x":504,"y":116,"n":2},{"x":509,"y":116,"n":1},
{"x":251,"y":113,"n":1},{"x":255,"y":113,"n":1},{"x":256,"y":113,"n":1},{"x":259,"y":113,"n":1},{"x":261,"y":113,"n":1},{"x":262,"y":113,"n":2},{"x":263,"y":113,"n":2},{"x":264,"y":113,"n":3},{"x":265,"y":113,"n":3},{"x":266,"y":113,"n":4},{"x":267,"y":113,"n":5},{"x":268,"y":113,"n":8},{"x":269,"y":113,"n":10},{"x":270,"y":113,"n":14},{"x":271,"y":113,"n":14},{"x":272,"y":113,"n":16},{"x":273,"y":113,"n":18},{"x":274,"y":113,"n":22},
{"x":275,"y":113,"n":32},{"x":276,"y":113,"n":32},{"x":277,"y":113,"n":32},{"x":278,"y":113,"n":32},{"x":279,"y":113,"n":32},{"x":280,"y":113,"n":32},{"x":281,"y":113,"n":32},{"x":282,"y":113,"n":32},{"x":283,"y":113,"n":32},{"x":284,"y":113,"n":32},{"x":285,"y":113,"n":32},{"x":286,"y":113,"n":32},{"x":287,"y":113,"n":32},{"x":288,"y":113,"n":32},{"x":289,"y":113,"n":32},{"x":290,"y":113,"n":32},{"x":291,"y":113,"n":32},{"x":292,"y":113,"n":32},{"x":293,"y":113,"n":32},{"x":294,"y":113,"n":32},{"x":295,"y":113,"n":32},{"x":296,"y":113,"n":32},{"x":297,"y":113,"n":32},{"x":298,"y":113,"n":32},{"x":299,"y":113,"n":32},{"x":300,"y":113,"n":32},{"x":301,"y":113,"n":32},{"x":302,"y":113,"n":32},{"x":303,"y":113,"n":32},{"x":304,"y":113,"n":32},{"x":305,"y":113,"n":32},{"x":306,"y":113,"n":32},{"x":307,"y":113,"n":32},{"x":308,"y":113,"n":32},{"x":309,"y":113,"n":32},{"x":310,"y":113,"n":32},{"x":311,"y":113,"n":32},{"x":312,"y":113,"n":32},{"x":313,"y":113,"n":32},{"x":314,"y":113,"n":32},{"x":315,"y":113,"n":32},{"x":316,"y":113,"n":32},{"x":317,"y":113,"n":32},{"x":318,"y":113,"n":32},{"x":319,"y":113,"n":32},
{"x":320,"y":113,"n":26},{"x":321,"y":113,"n":22},{"x":322,"y":113,"n":18},{"x":323,"y":113,"n":16},{"x":324,"y":113,"n":14},{"x":325,"y":113,"n":12},{"x":326,"y":113,"n":10},{"x":327,"y":113,"n":8},{"x":328,"y":113,"n":6},{"x":329,"y":113,"n":5},{"x":330,"y":113,"n":5},{"x":331,"y":113,"n":4},{"x":332,"y":113,"n":7},{"x":333,"y":113,"n":4},{"x":334,"y":113,"n":3},{"x":335,"y":113,"n":3},{"x":336,"y":113,"n":5},{"x":337,"y":113,"n":2},{"x":338,"y":113,"n":2},{"x":339,"y":113,"n":2},{"x":340,"y":113,"n":2},{"x":341,"y":113,"n":2},{"x":342,"y":113,"n":5},{"x":343,"y":113,"n":1},{"x":344,"y":113,"n":1},{"x":345,"y":113,"n":1},{"x":346,"y":113,"n":1},{"x":348,"y":113,"n":1},{"x":350,"y":113,"n":1},{"x":352,"y":113,"n":1},{"x":354,"y":113,"n":1}
]},
"layer":[
{"transform":[{"filter":{"field":"n","lt":0}}],"mark":{"type":"point"},"encoding":{
"x":{"field":"x","type":"quantitative","scale":{"domain":[228.1,542.4],"nice":false,"zero":false},"axis":{"orient":"top","values":[250,350,450],"grid":true,"gridWidth":1.2,"labels":false,"ticks":false,"domain":false}},
"y":{"field":"y","type":"quantitative","scale":{"domain":[111.47,144.53],"nice":false,"zero":false},"axis":{"orient":"right","values":[115,125,135],"grid":true,"gridWidth":1.2,"labels":false,"ticks":false,"domain":false}}}},
{"mark":{"type":"point","shape":"circle","filled":false,"color":"black","strokeWidth":2.6,"size":340},"encoding":{
"x":{"field":"x","type":"quantitative","scale":{"domain":[228.1,542.4],"nice":false,"zero":false},"axis":{"orient":"bottom","values":[300,400,500],"grid":true,"gridWidth":2.6,"labelPadding":8}},
"y":{"field":"y","type":"quantitative","scale":{"domain":[111.47,144.53],"nice":false,"zero":false},"axis":{"orient":"left","values":[120,130,140],"grid":true,"gridWidth":2.6,"labelPadding":14}},
"opacity":{"field":"n","type":"quantitative","scale":{"type":"linear","domain":[0,1,2,3,5,8,10,15,20,30,40,60],"range":[0,0.06,0.14,0.21,0.33,0.47,0.55,0.68,0.78,0.9,0.95,1],"clamp":true},"legend":null}}}
],
"resolve":{"axis":{"x":"independent","y":"independent"}}
}
